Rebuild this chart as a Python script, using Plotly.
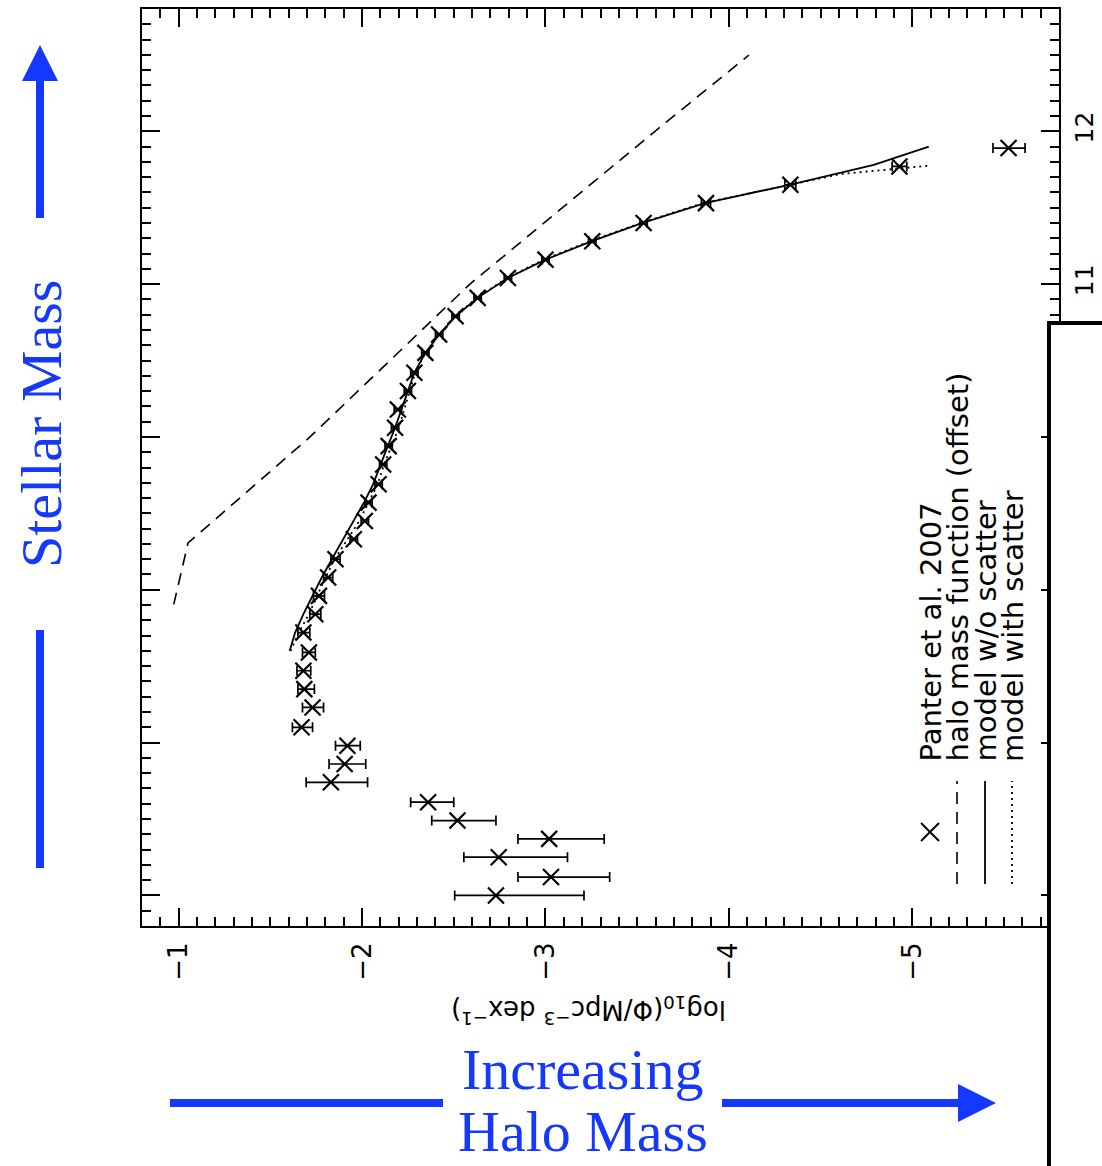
import plotly.graph_objects as go

# ---------------------------------------------------------------------------
# Data: stellar mass function (Panter et al. 2007) and model curves
# x = log10(Phi / Mpc^-3 dex^-1), y = log10 stellar mass
# ---------------------------------------------------------------------------
mstar = [7.00, 7.12, 7.25, 7.37, 7.49, 7.61, 7.74, 7.86, 7.98, 8.10,
         8.23, 8.35, 8.47, 8.59, 8.72, 8.84, 8.96, 9.08, 9.20, 9.33,
         9.45, 9.57, 9.69, 9.82, 9.94, 10.06, 10.18, 10.30, 10.42, 10.55,
         10.67, 10.79, 10.91, 11.04, 11.16, 11.28, 11.40, 11.53, 11.65, 11.77,
         11.89]
log_phi = [-2.73, -3.03, -2.745, -3.02, -2.52, -2.36, -1.83, -1.905, -1.92, -1.67,
           -1.73, -1.685, -1.68, -1.71, -1.68, -1.745, -1.765, -1.815, -1.855, -1.955,
           -2.015, -2.035, -2.09, -2.115, -2.145, -2.18, -2.195, -2.25, -2.285, -2.345,
           -2.42, -2.51, -2.63, -2.795, -3.00, -3.255, -3.535, -3.875, -4.335, -4.93,
           -5.525]
# error toward lower (more negative) and higher (less negative) log Phi
phi_err_low = [0.48, 0.32, 0.375, 0.30, 0.21, 0.14, 0.20, 0.115, 0.07, 0.06,
               0.06, 0.055, 0.04, 0.035, 0.035, 0.03, 0.03, 0.025, 0.025, 0.02,
               0.02, 0.02, 0.02, 0.02, 0.02, 0.02, 0.02, 0.02, 0.02, 0.02,
               0.02, 0.02, 0.02, 0.02, 0.02, 0.02, 0.02, 0.025, 0.03, 0.04,
               0.09]
phi_err_high = [0.225, 0.18, 0.19, 0.17, 0.14, 0.095, 0.135, 0.085, 0.065, 0.05,
                0.055, 0.035, 0.035, 0.035, 0.03, 0.03, 0.03, 0.025, 0.025, 0.02,
                0.02, 0.02, 0.02, 0.02, 0.02, 0.02, 0.02, 0.02, 0.02, 0.02,
                0.02, 0.02, 0.02, 0.02, 0.02, 0.02, 0.02, 0.025, 0.03, 0.04,
                0.085]

# halo mass function (offset)
hmf_phi = [-0.973, -1.051, -1.716, -2.588, -3.597, -4.110]
hmf_m = [8.904, 9.306, 10.00, 11.00, 12.00, 12.499]

# model without scatter
noscat_m = [8.60, 8.72, 8.84, 8.96, 9.08, 9.20, 9.33, 9.45, 9.57, 9.69, 9.82, 9.94,
            10.06, 10.18, 10.30, 10.42, 10.55, 10.67, 10.79, 10.91, 11.04, 11.16,
            11.28, 11.40, 11.53, 11.65, 11.78, 11.90]
noscat_phi = [-1.605, -1.635, -1.68, -1.73, -1.78, -1.835, -1.895, -1.955, -2.01, -2.06,
              -2.10, -2.14, -2.18, -2.215, -2.25, -2.285, -2.345, -2.42, -2.51, -2.63,
              -2.795, -3.00, -3.25, -3.53, -3.87, -4.33, -4.79, -5.09]

# model with scatter
scat_m = [8.60, 8.72, 8.84, 8.96, 9.08, 9.20, 9.33, 9.45, 9.57, 9.69, 9.82, 9.94,
          10.06, 10.18, 10.30, 10.42, 10.55, 10.67, 10.79, 10.91, 11.04, 11.16,
          11.28, 11.40, 11.53, 11.65, 11.72, 11.775]
scat_phi = [-1.61, -1.655, -1.71, -1.755, -1.80, -1.85, -1.92, -1.985, -2.035, -2.085,
            -2.12, -2.16, -2.20, -2.23, -2.26, -2.29, -2.345, -2.42, -2.51, -2.625,
            -2.79, -2.99, -3.24, -3.52, -3.86, -4.33, -4.61, -5.09]

phi_ticks = [-1, -2, -3, -4, -5]
mass_ticks = [7, 8, 9, 10, 11, 12]
mass_labels_right = [11, 12]

legend_labels = ["Panter et al. 2007", "halo mass function (offset)",
                 "model w/o scatter", "model with scatter"]

# ---------------------------------------------------------------------------
W, H = 1102, 1166
L, R, T, B = 142, 43, 9, 240
PW, PH = W - L - R, H - T - B
BLUE = "#1538ff"
SANS = "DejaVu Sans"
SERIF = "Liberation Serif"


def px(xp):
    return (xp - L) / PW


def py(yp):
    return (H - B - yp) / PH


fig = go.Figure()

fig.add_trace(go.Scatter(x=hmf_phi, y=hmf_m, mode="lines",
                         line=dict(color="black", width=1.6, dash="12px,8px"),
                         hoverinfo="skip"))
fig.add_trace(go.Scatter(x=noscat_phi, y=noscat_m, mode="lines",
                         line=dict(color="black", width=1.8), hoverinfo="skip"))
fig.add_trace(go.Scatter(x=scat_phi, y=scat_m, mode="lines",
                         line=dict(color="black", width=1.8, dash="2px,4px"),
                         hoverinfo="skip"))
fig.add_trace(go.Scatter(
    x=log_phi, y=mstar, mode="markers",
    marker=dict(symbol="x-thin-open", size=16, color="black",
                line=dict(color="black", width=2.2)),
    error_x=dict(type="data", array=phi_err_high, arrayminus=phi_err_low,
                 color="black", thickness=1.7, width=5),
))
# carrier for the right-hand mass labels
fig.add_trace(go.Scatter(x=log_phi, y=mstar, yaxis="y2", mode="markers",
                         marker=dict(opacity=0), hoverinfo="skip"))

axis_common = dict(showgrid=False, zeroline=False, showline=True, linewidth=2,
                   linecolor="black", ticks="inside", ticklen=18, tickwidth=1.5,
                   tickcolor="black", mirror="ticks", automargin=False)

fig.update_layout(
    width=W, height=H, showlegend=False,
    margin=dict(l=L, r=R, t=T, b=B, autoexpand=False),
    paper_bgcolor="white", plot_bgcolor="white",
    xaxis=dict(range=[-0.8, -5.8], tickvals=phi_ticks, tickangle=-90,
               tickfont=dict(family=SANS, size=26, color="black"),
               ticklabelstandoff=4,
               minor=dict(dtick=0.1, ticklen=9, tickwidth=1.5, ticks="inside",
                          tickcolor="black"),
               **axis_common),
    yaxis=dict(range=[6.8, 12.8], tickvals=mass_ticks, showticklabels=False,
               minor=dict(dtick=0.1, ticklen=9, tickwidth=1.5, ticks="inside",
                          tickcolor="black"),
               **axis_common),
    yaxis2=dict(range=[6.8, 12.8], overlaying="y", side="right",
                tickvals=mass_labels_right,
                ticks="", showline=False, showgrid=False, zeroline=False,
                automargin=False, tickangle=-90, ticklabelstandoff=8,
                tickfont=dict(family=SANS, size=25, color="black")),
)

shapes = []
# white panel on the right with black border
shapes.append(dict(type="rect", xref="paper", yref="paper",
                   x0=px(1049), x1=px(1115), y0=py(323), y1=py(1180),
                   fillcolor="white", line=dict(color="black", width=4), layer="above"))

# legend symbols
cx, cy, hs = 930, 832, 9
shapes.append(dict(type="line", xref="paper", yref="paper", x0=px(cx - hs), y0=py(cy - hs),
                   x1=px(cx + hs), y1=py(cy + hs), line=dict(color="black", width=2)))
shapes.append(dict(type="line", xref="paper", yref="paper", x0=px(cx - hs), y0=py(cy + hs),
                   x1=px(cx + hs), y1=py(cy - hs), line=dict(color="black", width=2)))
shapes.append(dict(type="line", xref="paper", yref="paper", x0=px(957), y0=py(884),
                   x1=px(957), y1=py(781), line=dict(color="black", width=1.6, dash="12px,8px")))
shapes.append(dict(type="line", xref="paper", yref="paper", x0=px(985), y0=py(884),
                   x1=px(985), y1=py(781), line=dict(color="black", width=1.8)))
shapes.append(dict(type="line", xref="paper", yref="paper", x0=px(1012), y0=py(884),
                   x1=px(1012), y1=py(781), line=dict(color="black", width=1.8, dash="2px,4px")))

# blue guides: stellar mass (vertical) and halo mass (horizontal)
shapes.append(dict(type="line", xref="paper", yref="paper", x0=px(40), x1=px(40),
                   y0=py(218), y1=py(76), line=dict(color=BLUE, width=8)))
shapes.append(dict(type="path", xref="paper", yref="paper",
                   path=f"M {px(40)},{py(45)} L {px(22)},{py(81)} L {px(58)},{py(81)} Z",
                   fillcolor=BLUE, line=dict(color=BLUE, width=0)))
shapes.append(dict(type="line", xref="paper", yref="paper", x0=px(40), x1=px(40),
                   y0=py(630), y1=py(868), line=dict(color=BLUE, width=8)))
shapes.append(dict(type="line", xref="paper", yref="paper", x0=px(170), x1=px(443),
                   y0=py(1103), y1=py(1103), line=dict(color=BLUE, width=8)))
shapes.append(dict(type="line", xref="paper", yref="paper", x0=px(722), x1=px(962),
                   y0=py(1103), y1=py(1103), line=dict(color=BLUE, width=8)))
shapes.append(dict(type="path", xref="paper", yref="paper",
                   path=f"M {px(996)},{py(1103)} L {px(958)},{py(1084)} L {px(958)},{py(1122)} Z",
                   fillcolor=BLUE, line=dict(color=BLUE, width=0)))
fig.update_layout(shapes=shapes)

ann = []
for xpix, label in zip([930, 957, 985, 1013], legend_labels):
    ann.append(dict(xref="paper", yref="paper", x=px(xpix), y=py(764), text=label,
                    textangle=-90, xanchor="center", yanchor="bottom", showarrow=False,
                    font=dict(family=SANS, size=29, color="black")))
ann.append(dict(xref="paper", yref="paper", x=px(589), y=py(1010),
                text="log<sub>10</sub>(Φ/Mpc<sup>−3</sup> dex<sup>−1</sup>)",
                textangle=180, xanchor="center", yanchor="middle", showarrow=False,
                font=dict(family=SANS, size=26, color="black")))
ann.append(dict(xref="paper", yref="paper", x=px(42), y=py(424), text="Stellar Mass",
                textangle=-90, xanchor="center", yanchor="middle", showarrow=False,
                font=dict(family=SERIF, size=58, color=BLUE)))
ann.append(dict(xref="paper", yref="paper", x=px(583), y=py(1069), text="Increasing",
                xanchor="center", yanchor="middle", showarrow=False,
                font=dict(family=SERIF, size=58, color=BLUE)))
ann.append(dict(xref="paper", yref="paper", x=px(583), y=py(1131), text="Halo Mass",
                xanchor="center", yanchor="middle", showarrow=False,
                font=dict(family=SERIF, size=58, color=BLUE)))
fig.update_layout(annotations=ann)

fig.write_html("out.html")
